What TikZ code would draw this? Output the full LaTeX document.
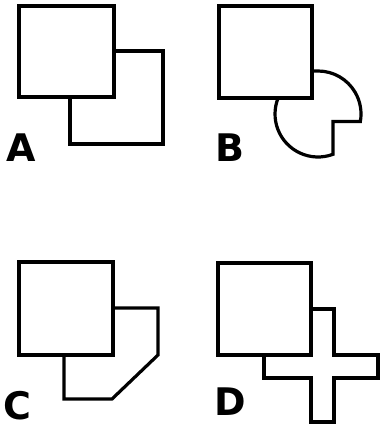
\documentclass[tikz,border=0pt]{standalone}
\usepackage{fontspec}
\newfontfamily\labelfont{DejaVu Sans}[BoldFont={DejaVu Sans Bold}]
\begin{document}
\begin{tikzpicture}[x=1pt, y=1pt, line width=3.2pt, every node/.style={inner sep=0pt, anchor=base west, font=\labelfont\bfseries\fontsize{38}{38}\selectfont}]
		\useasboundingbox (0, 0) rectangle (380, 427);
		\draw (19, 330) rectangle (114, 421);
		\draw (114, 376) -- (163, 376) -- (163, 283) -- (70, 283) -- (70, 330);
		\node (labA) at (5, 265) {A};
		\draw (219, 329) rectangle (312, 421);
		\draw (312, 356) -- (318, 356) arc[start angle=90, end angle=-10, radius=43pt] -- (333, 305.5) -- (333, 272.7) arc[start angle=-69.6, end angle=-201.8, radius=43pt];
		\node (labB) at (214, 265) {B};
		\draw (19, 72) rectangle (113, 165);
		\draw (113, 119) -- (158, 119) -- (158, 72) -- (112, 28) -- (64, 28) -- (64, 72);
		\node (labC) at (2, 8) {C};
		\draw (218, 72) rectangle (311, 164);
		\draw (311, 118) -- (334, 118) -- (334, 72) -- (378, 72) -- (378, 49) -- (334, 49) -- (334, 5) -- (311, 5) -- (311, 49) -- (264, 49) -- (264, 72);
		\node (labD) at (213, 12) {D};
	\end{tikzpicture}
\end{document}
